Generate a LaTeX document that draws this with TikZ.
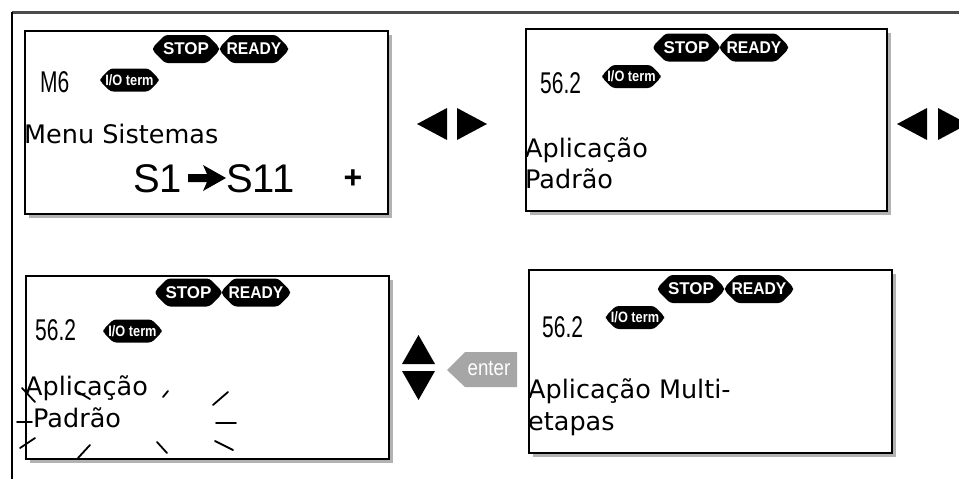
\documentclass[tikz,border=0pt]{standalone}
\usepackage{fontspec}
\setmainfont{DejaVu Sans}
\newfontfamily\lib{Liberation Sans}
\usetikzlibrary{shapes.misc,shadows}
\tikzset{
  lcd/.style={draw=black, line width=1.6pt, fill=white, inner sep=0pt, anchor=north west,
    drop shadow={shadow xshift=4pt, shadow yshift=-4pt, fill=black!30, opacity=1}},
  badge/.style={chamfered rectangle, chamfered rectangle xsep=6pt, chamfered rectangle ysep=6pt,
    rounded corners=3pt, fill=black, text=white,
    inner sep=0pt, minimum height=28pt, font=\lib\bfseries\fontsize{17}{17}\selectfont},
  iobadge/.style={chamfered rectangle, chamfered rectangle xsep=5pt, chamfered rectangle ysep=5pt,
    rounded corners=3pt, fill=black, text=white,
    inner sep=0pt, minimum height=23pt, minimum width=56pt, font=\lib\bfseries\fontsize{15}{15}\selectfont},
  lbl/.style={anchor=base west, inner sep=0pt, font=\fontsize{25.5}{31}\selectfont},
  segtxt/.style={anchor=base west, inner sep=0pt, font=\lib\fontsize{30}{30}\selectfont},
  tri/.style={fill=black},
  blink/.style={line width=1.8pt, line cap=round},
  frameline/.style={line width=3pt, black!70},
}
\begin{document}
\begin{tikzpicture}[x=1pt,y=-1pt]
\useasboundingbox (0,0) rectangle (959,479);
\clip (0,0) rectangle (959,479);
\fill[white] (0,0) rectangle (959,479);
% frame
\coordinate (fc) at (12,12);
\coordinate (fr) at (959,12);
\coordinate (fb) at (12,479);
\draw[frameline] (fc) -- (fr);
\draw[line width=1.8pt] (fc) -- (fb);

% ---------- box 1 ----------
\node[lcd, minimum width=363pt, minimum height=183pt] (b1) at (24,30) {};
\node[badge, minimum width=66pt] (b1stop) at (186,49) {STOP};
\node[badge, minimum width=68pt] (b1ready) at (254,49) {\scalebox{0.92}[1]{READY}};
\node[iobadge] (b1io) at (129.5,80) {\scalebox{0.85}[1]{I/O term}};
\node[segtxt] (b1seg) at (40,92) {\scalebox{0.7}[1]{M6}};
\node[lbl] (b1t) at (24,143) {Menu Sistemas};
\node[anchor=base west, inner sep=0pt, font=\lib\fontsize{40}{40}\selectfont] (s1) at (133,192) {S1};
\fill (188,174) -- (207,174) -- (203,165) -- (226,178) -- (203,191) -- (207,182) -- (188,182) -- cycle;
\node[anchor=base west, inner sep=0pt, font=\lib\fontsize{40}{40}\selectfont] (s11) at (226,192) {S11};
\node[inner sep=0pt, font=\lib\bfseries\fontsize{32}{32}\selectfont] (plus) at (353,179) {+};

% left/right arrows 1
\fill[tri] (417,124) -- (447,108) -- (447,140) -- cycle;
\fill[tri] (457,108) -- (457,140) -- (487,124) -- cycle;

% ---------- box 2 ----------
\node[lcd, minimum width=361pt, minimum height=182pt] (b2) at (525,28) {};
\node[badge, minimum width=66pt] (b2stop) at (686.5,47.5) {STOP};
\node[badge, minimum width=68pt] (b2ready) at (754,47.5) {\scalebox{0.92}[1]{READY}};
\node[iobadge] (b2io) at (631.5,76.5) {\scalebox{0.85}[1]{I/O term}};
\node[segtxt] (b2seg) at (540,93) {\scalebox{0.7}[1]{56.2}};
\node[lbl] (b2t1) at (525,157) {Aplicação};
\node[lbl] (b2t2) at (525,188) {Padrão};

% left/right arrows 2
\fill[tri] (897,124) -- (927,108) -- (927,140) -- cycle;
\fill[tri] (938,108) -- (938,140) -- (968,124) -- cycle;

% ---------- box 3 ----------
\node[lcd, minimum width=363pt, minimum height=183pt] (b3) at (25,275) {};
\node[badge, minimum width=66pt] (b3stop) at (188.5,292.5) {STOP};
\node[badge, minimum width=68pt] (b3ready) at (256,292.5) {\scalebox{0.92}[1]{READY}};
\node[iobadge] (b3io) at (132.5,331) {\scalebox{0.85}[1]{I/O term}};
\node[segtxt] (b3seg) at (35,340) {\scalebox{0.7}[1]{56.2}};
\node[lbl] (b3t1) at (25,395) {Aplicação};
\node[lbl] (b3t2) at (33,427) {Padrão};
\draw[blink] (22,388) -- (35,402);
\draw[blink] (78,392) -- (90,399);
\draw[blink] (163,397) -- (168,391);
\draw[blink] (213,405) -- (228,392);
\draw[blink] (17,422) -- (32,422);
\draw[blink] (216,423) -- (236,423);
\draw[blink] (20,448) -- (35,438);
\draw[blink] (78,458) -- (90,445);
\draw[blink] (157,442) -- (167,453);
\draw[blink] (215,441) -- (233,450);

% up/down arrows
\fill[tri] (402,364) -- (435,364) -- (418.5,335) -- cycle;
\fill[tri] (402,371) -- (435,371) -- (418.5,400) -- cycle;

% enter key
\fill[black!35] (447,370) -- (465,352) -- (517,352) -- (517,387) -- (465,387) -- cycle;
\node[inner sep=0pt, text=white, font=\lib\fontsize{22}{22}\selectfont] (enter) at (489,368) {\scalebox{0.85}[1]{enter}};

% ---------- box 4 ----------
\node[lcd, minimum width=363pt, minimum height=183pt] (b4) at (528,269) {};
\node[badge, minimum width=66pt] (b4stop) at (691,289) {STOP};
\node[badge, minimum width=68pt] (b4ready) at (759,289) {\scalebox{0.92}[1]{READY}};
\node[iobadge] (b4io) at (635,317.5) {\scalebox{0.85}[1]{I/O term}};
\node[segtxt] (b4seg) at (542,337) {\scalebox{0.7}[1]{56.2}};
\node[lbl] (b4t1) at (528,398) {Aplicação Multi-};
\node[lbl] (b4t2) at (528,430) {etapas};
\end{tikzpicture}
\end{document}
